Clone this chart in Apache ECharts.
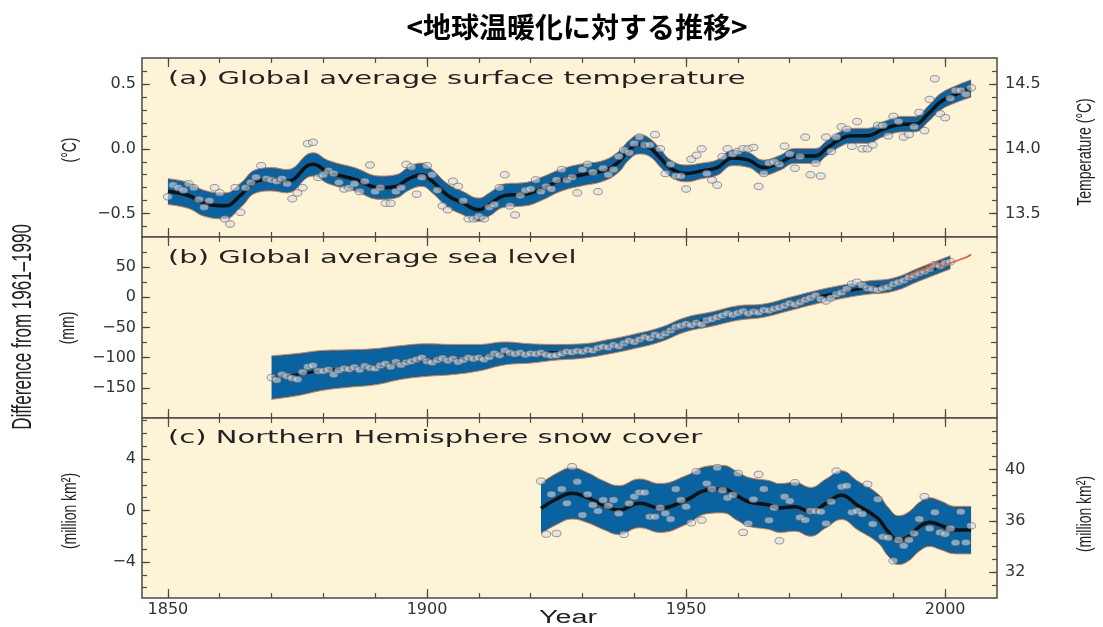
<!DOCTYPE html>
<html>
<head>
<meta charset="utf-8">
<script src="https://cdn.jsdelivr.net/npm/echarts@6/dist/echarts.min.js"></script>
<style>
  html, body { margin: 0; padding: 0; background: #ffffff; }
  #chart { width: 1103px; height: 627px; }
</style>
</head>
<body>
<div id="chart"></div>
<script>
// ---------- (a) global average surface temperature, anomaly vs 1961–1990 (°C) ----------
const tempStartYear = 1850;
const tempAnnual = [
  -0.37, -0.28, -0.30, -0.32, -0.27, -0.30, -0.39, -0.45, -0.40, -0.30,
  -0.34, -0.54, -0.58, -0.30, -0.49, -0.30, -0.26, -0.22, -0.13, -0.23,
  -0.24, -0.25, -0.23, -0.27, -0.385, -0.34, -0.30, 0.04, 0.05, -0.22,
  -0.20, -0.17, -0.19, -0.26, -0.31, -0.30, -0.27, -0.33, -0.25, -0.125,
  -0.33, -0.30, -0.42, -0.42, -0.33, -0.30, -0.12, -0.14, -0.35, -0.22,
  -0.13, -0.20, -0.32, -0.44, -0.47, -0.25, -0.29, -0.40, -0.54, -0.54,
  -0.52, -0.54, -0.45, -0.43, -0.30, -0.20, -0.44, -0.51, -0.36, -0.32,
  -0.31, -0.24, -0.33, -0.29, -0.31, -0.24, -0.16, -0.24, -0.22, -0.34,
  -0.16, -0.12, -0.18, -0.33, -0.15, -0.20, -0.16, -0.06, -0.01, -0.03,
  0.04, 0.09, 0.03, 0.03, 0.11, 0.00, -0.19, -0.12, -0.21, -0.21,
  -0.31, -0.08, -0.05, 0.00, -0.19, -0.24, -0.28, -0.06, 0.00, -0.04,
  -0.02, 0.00, 0.00, 0.01, -0.29, -0.19, -0.11, -0.10, -0.12, 0.02,
  -0.04, -0.15, -0.06, 0.09, -0.20, -0.11, -0.21, 0.09, -0.02, 0.09,
  0.17, 0.15, 0.02, 0.21, 0.00, 0.00, 0.03, 0.18, 0.18, 0.10,
  0.25, 0.21, 0.09, 0.11, 0.17, 0.28, 0.14, 0.38, 0.54, 0.27,
  0.24, 0.39, 0.45, 0.45, 0.42, 0.47
];
const tempSmoothYears = [
  1850, 1854, 1857, 1861, 1864, 1867, 1870, 1873, 1878, 1881, 1886, 1891, 1894,
  1896.5, 1899, 1901, 1904, 1907, 1910, 1912, 1915, 1919, 1922, 1926, 1930, 1934,
  1937, 1939, 1941, 1943, 1945, 1947, 1950, 1953, 1956, 1959, 1962, 1965, 1968,
  1971, 1975, 1977, 1980, 1982, 1985, 1988, 1992, 1994, 1997, 1999, 2002, 2005
];
const tempSmooth = [
  -0.33, -0.36, -0.42, -0.44, -0.36, -0.25, -0.235, -0.25, -0.12, -0.18, -0.235, -0.30, -0.29,
  -0.23, -0.20, -0.25, -0.36, -0.42, -0.47, -0.43, -0.36, -0.35, -0.31, -0.24, -0.20, -0.17,
  -0.10, -0.01, 0.035, 0.01, -0.07, -0.15, -0.19, -0.17, -0.145, -0.07, -0.085, -0.145, -0.11,
  -0.055, -0.055, 0.0, 0.08, 0.10, 0.10, 0.15, 0.19, 0.19, 0.28, 0.36, 0.42, 0.465
];
const tempSpread = [
  0.10, 0.10, 0.10, 0.10, 0.095, 0.09, 0.09, 0.09, 0.09, 0.09, 0.09, 0.09, 0.09,
  0.09, 0.09, 0.09, 0.09, 0.09, 0.09, 0.09, 0.09, 0.09, 0.09, 0.085, 0.085, 0.08,
  0.08, 0.075, 0.075, 0.07, 0.07, 0.065, 0.065, 0.06, 0.06, 0.06, 0.058, 0.058, 0.058,
  0.058, 0.058, 0.058, 0.058, 0.058, 0.058, 0.058, 0.06, 0.06, 0.062, 0.064, 0.065, 0.067
];

// ---------- (b) global average sea level, difference from 1961–1990 (mm) ----------
const seaStartYear = 1870;
const seaAnnual = [
  -133, -137, -128, -131, -134, -136, -124, -115, -113, -122,
  -122, -120, -128, -121, -118, -119, -116, -120, -114, -117,
  -118, -113, -110, -115, -107, -112, -108, -106, -103, -100,
  -106, -108, -104, -101, -105, -102, -107, -104, -100, -102,
  -100, -103, -99, -93, -96, -88, -92, -94, -92, -95,
  -93, -94, -92, -95, -97, -96, -93, -90, -91, -89,
  -90, -87, -88, -84, -82, -83, -79, -81, -76, -72,
  -74, -70, -66, -68, -62, -64, -60, -55, -49, -47,
  -44, -46, -42, -45, -38, -36, -33, -30, -27, -29,
  -26, -23, -27, -24, -25, -21, -22, -19, -17, -14,
  -10, -12, -8, -4, -1, 3, -3, -6, -1, 5,
  8, 14, 22, 25, 20, 15, 14, 12, 15, 17,
  22, 25, 28, 33, 36, 40, 43, 47, 54, 52,
  57, 59
];
const seaSmoothYears = [
  1870, 1875, 1880, 1885, 1890, 1895, 1900, 1905, 1910, 1915, 1920, 1925, 1930, 1935,
  1940, 1945, 1950, 1955, 1960, 1965, 1970, 1975, 1980, 1985, 1990, 1995, 2001
];
const seaSmooth = [
  -133, -128, -121, -118, -115, -108, -104, -103, -100, -93, -93, -91, -89, -82,
  -73, -62, -45, -36, -26, -22, -11, 0, 9, 16, 21, 38, 58
];
const seaSpread = [
  36, 35, 33, 31, 30, 28, 27, 25, 22, 19, 16, 13, 12, 12,
  12, 12, 12, 12, 12, 11, 11, 11, 11, 11, 11, 11, 11
];
// satellite altimetry
const altYears = [1993, 1994, 1995, 1996, 1997, 1998, 1999, 2000, 2001, 2002, 2003, 2004, 2005];
const altValues = [36, 40, 44, 46, 51, 57, 54, 52, 57, 60, 63, 66, 71];

// ---------- (c) Northern Hemisphere snow cover, difference from 1961–1990 (million km²) ----------
const snowStartYear = 1922;
const snowAnnual = [
  2.29, -1.83, 1.26, -1.78, 1.67, 0.56, 3.41, 2.24,
  -0.35, 1.26, 0.43, -0.04, 0.82, 0.38, 0.82, -0.22, -1.85, 0.56,
  1.08, 1.41, 1.41, -0.48, -0.48, 0.22, -0.22, -0.66, 1.67, 0.82,
  0.30, -0.95, 3.02, -0.74, 2.11, 1.67, 3.33, 1.59, 0.99, 1.21,
  2.89, -1.70, -1.00, 0.87, 2.81, 1.67, -0.76, 0.22, -2.35, 1.08,
  0.74, 2.16, -0.53, -0.74, -0.04, -0.04, -0.09, -1.00, 0.69, 3.07,
  1.85, 1.93, -0.14, -0.04, -0.27, 2.04, -1.05, 0.89, -2.04, -2.11,
  -3.90, -2.29, -2.74, -2.29, -1.78, -0.66, 1.08, -1.39, -0.14, -1.70,
  -1.83, -1.39, -2.50, -0.09, -2.48, -1.18
];
const snowSmoothYears = [
  1922, 1925, 1928, 1931, 1934, 1937, 1941, 1945, 1950, 1954, 1957, 1960, 1962, 1966,
  1968, 1971, 1974, 1977, 1980, 1983, 1987, 1989, 1991, 1993, 1995, 1997, 1999, 2002, 2005
];
const snowSmooth = [
  0.17, 0.9, 1.34, 1.0, 0.43, 0.04, 0.56, 0.2, 0.82, 1.6, 1.67, 1.1, 0.69, 0.43,
  0.2, 0.3, -0.1, 0.56, 1.2, 0.43, -0.6, -1.65, -2.3, -2.0, -1.26, -0.9, -1.13, -1.52, -1.52
];
const snowSpread = [
  1.95, 2.0, 2.0, 1.95, 1.9, 1.9, 1.9, 1.9, 1.9, 1.85, 1.85, 1.9, 1.9, 1.9,
  1.9, 1.9, 1.9, 1.9, 1.9, 1.9, 1.9, 1.9, 1.9, 1.9, 1.9, 1.9, 1.9, 1.85, 1.85
];

// ---------- tick values ----------
const yearLabels = [1850, 1900, 1950, 2000];
const yearMinor = [1850, 1860, 1870, 1880, 1890, 1900, 1910, 1920, 1930, 1940, 1950, 1960, 1970, 1980, 1990, 2000];
const tempLabels = [-0.5, 0, 0.5];
const tempMinor = [-0.6, -0.5, -0.4, -0.3, -0.2, -0.1, 0, 0.1, 0.2, 0.3, 0.4, 0.5, 0.6];
const tempAbsLabels = [13.5, 14.0, 14.5];
const tempAbsMinor = [13.4, 13.5, 13.6, 13.7, 13.8, 13.9, 14.0, 14.1, 14.2, 14.3, 14.4, 14.5, 14.6];
const seaLabels = [-150, -100, -50, 0, 50];
const seaMinor = [-175, -150, -125, -100, -75, -50, -25, 0, 25, 50, 75];
const snowLabels = [-4, 0, 4];
const snowMinor = [-6, -5, -4, -3, -2, -1, 0, 1, 2, 3, 4, 5, 6, 7];
const snowAbsLabels = [32, 36, 40];
const snowAbsMinor = [31, 32, 33, 34, 35, 36, 37, 38, 39, 40, 41, 42, 43];

// ---------- styling ----------
const PANEL_BG = '#fdf4d8';
const FRAME = '#4a4a4a';
const BAND = '#0863a0';
const EDGE = '#e87a3e';
const ALT = '#e4603a';
const LABEL_FONT = 'DejaVu Sans';
const SMOOTH = 0.45;

const grids = [
  { left: 142, right: 106, top: 58, height: 179 },
  { left: 142, right: 106, top: 237, height: 181 },
  { left: 142, right: 106, top: 418, height: 180 }
].map(g => Object.assign(g, {
  show: true, backgroundColor: PANEL_BG, borderColor: FRAME, borderWidth: 1.5, containLabel: false
}));

const xAxes = [];
const yAxes = [];
const tickLine = { color: FRAME, width: 1.2 };
const minus = v => (v < 0 ? '\u2212' : '') + Math.abs(v);

function addX(gi, position, ticks, len, labels) {
  xAxes.push({
    type: 'value', gridIndex: gi, position: position, min: 1845, max: 2010,
    axisLine: { show: false, onZero: false }, splitLine: { show: false },
    axisTick: { show: true, inside: true, length: len, customValues: ticks, lineStyle: tickLine },
    axisLabel: labels ? {
      show: true, customValues: labels, margin: 4, color: '#333',
      fontFamily: LABEL_FONT, fontSize: 16, formatter: v => String(v)
    } : { show: false }
  });
  return xAxes.length - 1;
}

function addY(gi, position, range, ticks, len, labels, fmt) {
  yAxes.push({
    type: 'value', gridIndex: gi, position: position, min: range[0], max: range[1],
    axisLine: { show: false, onZero: false }, splitLine: { show: false },
    axisTick: { show: true, inside: true, length: len, customValues: ticks, lineStyle: tickLine },
    axisLabel: labels ? {
      show: true, customValues: labels, margin: position === 'left' ? 6 : 8, color: '#333',
      fontFamily: LABEL_FONT, fontSize: 16, formatter: fmt
    } : { show: false }
  });
  return yAxes.length - 1;
}

const X = [], Y = [];
for (let gi = 0; gi < 3; gi++) {
  X.push(addX(gi, 'bottom', yearLabels, 9, gi === 2 ? yearLabels : null));
  addX(gi, 'bottom', yearMinor, 5, null);
  addX(gi, 'top', yearLabels, 9, null);
  addX(gi, 'top', yearMinor, 5, null);
}

// (a) temperature axes
Y.push(addY(0, 'left', [-0.68, 0.70], tempLabels, 8, tempLabels,
  v => (v < 0 ? '\u2212' : '') + Math.abs(v).toFixed(1)));
addY(0, 'left', [-0.68, 0.70], tempMinor, 5, null);
addY(0, 'right', [13.32, 14.70], tempAbsLabels, 8, tempAbsLabels, v => v.toFixed(1));
addY(0, 'right', [13.32, 14.70], tempAbsMinor, 5, null);
// (b) sea level axes
Y.push(addY(1, 'left', [-200, 100], seaLabels, 8, seaLabels, minus));
addY(1, 'left', [-200, 100], seaMinor, 5, null);
addY(1, 'right', [-200, 100], seaMinor, 6, null);
// (c) snow cover axes
Y.push(addY(2, 'left', [-6.8, 7.2], snowLabels, 8, snowLabels, minus));
addY(2, 'left', [-6.8, 7.2], snowMinor, 5, null);
addY(2, 'right', [30, 44], snowAbsLabels, 8, snowAbsLabels, v => String(v));
addY(2, 'right', [30, 44], snowAbsMinor, 5, null);

// ---------- drawing helpers ----------
// Cubic-bezier path through pixel points, same control-point rule as ECharts' smoothed lines.
function smoothPath(pts, smooth, move) {
  let d = (move ? 'M' : 'L') + pts[0][0] + ' ' + pts[0][1];
  let c0x = pts[0][0], c0y = pts[0][1];
  for (let i = 1; i < pts.length; i++) {
    const px = pts[i - 1][0], py = pts[i - 1][1];
    const x = pts[i][0], y = pts[i][1];
    let c1x = x, c1y = y, nx0 = x, ny0 = y;
    if (i < pts.length - 1) {
      const nx = pts[i + 1][0], ny = pts[i + 1][1];
      const l0 = Math.hypot(x - px, y - py), l1 = Math.hypot(nx - x, ny - y);
      const r = l1 / (l0 + l1);
      let vx = nx - px, vy = ny - py;
      nx0 = x + vx * smooth * r; ny0 = y + vy * smooth * r;
      nx0 = Math.max(Math.min(nx0, Math.max(nx, x)), Math.min(nx, x));
      ny0 = Math.max(Math.min(ny0, Math.max(ny, y)), Math.min(ny, y));
      vx = nx0 - x; vy = ny0 - y;
      c1x = x - vx * l0 / l1; c1y = y - vy * l0 / l1;
      c1x = Math.max(Math.min(c1x, Math.max(px, x)), Math.min(px, x));
      c1y = Math.max(Math.min(c1y, Math.max(py, y)), Math.min(py, y));
      vx = x - c1x; vy = y - c1y;
      nx0 = x + vx * l1 / l0; ny0 = y + vy * l1 / l0;
    }
    d += ' C' + c0x + ' ' + c0y + ' ' + c1x + ' ' + c1y + ' ' + x + ' ' + y;
    c0x = nx0; c0y = ny0;
  }
  return d;
}

const pairs = (xs, ys) => xs.map((x, i) => [x, ys[i]]);
const annual = (start, vals) => vals.map((v, i) => [start + i, v]);

// uncertainty band (mean ± spread) with orange edges and the black smoothed curve
function bandSeries(gi, years, mid, spread, curveWidth) {
  return {
    type: 'custom', coordinateSystem: 'cartesian2d', xAxisIndex: X[gi], yAxisIndex: Y[gi],
    silent: true, animation: false,
    data: years.map((x, i) => [x, mid[i], spread[i]]),
    renderItem: (params, api) => {
      if (params.dataIndex !== 0) return null;
      const up = years.map((x, i) => api.coord([x, mid[i] + spread[i]]));
      const lo = years.map((x, i) => api.coord([x, mid[i] - spread[i]]));
      const ce = years.map((x, i) => api.coord([x, mid[i]]));
      const area = smoothPath(up, SMOOTH, true) + ' ' +
        smoothPath(lo.slice().reverse(), SMOOTH, false) + ' Z';
      return {
        type: 'group',
        children: [
          { type: 'path', shape: { pathData: area }, style: { fill: BAND, stroke: 'none' } },
          { type: 'path', shape: { pathData: smoothPath(up, SMOOTH, true) },
            style: { fill: 'none', stroke: EDGE, lineWidth: 1 } },
          { type: 'path', shape: { pathData: smoothPath(lo, SMOOTH, true) },
            style: { fill: 'none', stroke: EDGE, lineWidth: 1 } },
          { type: 'path', shape: { pathData: smoothPath(ce, SMOOTH, true) },
            style: { fill: 'none', stroke: '#111', lineWidth: curveWidth, lineJoin: 'round', lineCap: 'butt' } }
        ]
      };
    }
  };
}

function dotSeries(gi, data) {
  return {
    type: 'scatter', xAxisIndex: X[gi], yAxisIndex: Y[gi], data: data,
    symbol: 'circle', symbolSize: [9, 6.5], silent: true, emphasis: { disabled: true },
    itemStyle: { color: 'rgba(214,218,228,0.74)', borderColor: '#505050', borderWidth: 0.7 }
  };
}

const series = [
  bandSeries(0, tempSmoothYears, tempSmooth, tempSpread, 3.5),
  dotSeries(0, annual(tempStartYear, tempAnnual)),
  bandSeries(1, seaSmoothYears, seaSmooth, seaSpread, 2.5),
  dotSeries(1, annual(seaStartYear, seaAnnual)),
  {
    type: 'line', xAxisIndex: X[1], yAxisIndex: Y[1], data: pairs(altYears, altValues),
    smooth: 0.3, symbol: 'none', silent: true, emphasis: { disabled: true },
    lineStyle: { color: ALT, width: 1.6 }
  },
  bandSeries(2, snowSmoothYears, snowSmooth, snowSpread, 3.5),
  dotSeries(2, annual(snowStartYear, snowAnnual))
];

// ---------- text ----------
const TXT = '#222';
const panelTitle = (text, y) => ({
  type: 'text', x: 168, y: y, scaleX: 1.61, z: 100,
  style: { text: text, fontFamily: LABEL_FONT, fontSize: 18, fill: TXT,
    textAlign: 'left', textVerticalAlign: 'middle' }
});
const sideText = (text, x, y, size, stretch) => ({
  type: 'text', x: x, y: y, rotation: Math.PI / 2, scaleY: stretch, z: 100,
  style: { text: text, fontFamily: 'Liberation Sans', fontSize: size, fill: TXT,
    textAlign: 'center', textVerticalAlign: 'middle' }
});

const graphic = [
  { type: 'text', x: 577, y: 27, z: 100,
    style: { text: '<地球温暖化に対する推移>', fontFamily: '"Noto Sans CJK JP"', fontSize: 28,
      fontWeight: 'bold', fill: '#000', textAlign: 'center', textVerticalAlign: 'middle' } },
  panelTitle('(a) Global average surface temperature', 79),
  panelTitle('(b) Global average sea level', 258),
  panelTitle('(c) Northern Hemisphere snow cover', 438),
  sideText('Difference from 1961\u20131990', 23, 327, 17, 1.65),
  sideText('(\u00B0C)', 70, 150, 14, 1.5),
  sideText('(mm)', 68, 328, 14, 1.5),
  sideText('(million km\u00B2)', 70, 511, 14, 1.5),
  sideText('Temperature (\u00B0C)', 1085, 152, 14, 1.5),
  sideText('(million km\u00B2)', 1085, 514, 14, 1.5),
  { type: 'text', x: 568, y: 618, scaleX: 1.6, z: 100,
    style: { text: 'Year', fontFamily: 'Liberation Sans', fontSize: 18, fill: TXT,
      textAlign: 'center', textVerticalAlign: 'middle' } }
];

const chart = echarts.init(document.getElementById('chart'), null, { renderer: 'canvas' });
chart.setOption({
  animation: false,
  backgroundColor: '#ffffff',
  grid: grids,
  xAxis: xAxes,
  yAxis: yAxes,
  series: series,
  graphic: graphic
});
</script>
</body>
</html>
